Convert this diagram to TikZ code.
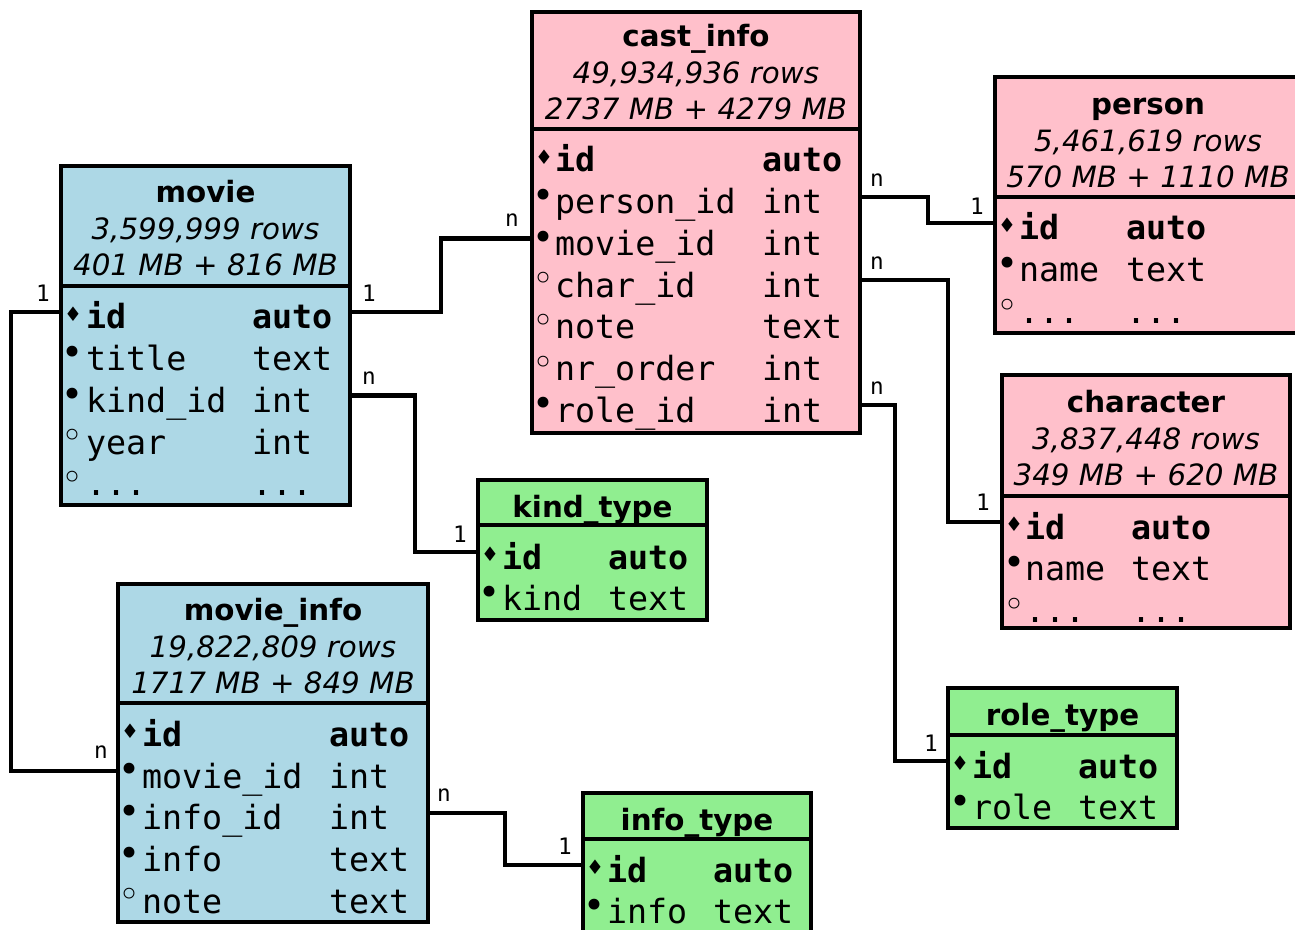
\documentclass[tikz,border=0pt]{standalone}
\usepackage{fontspec}
\setmainfont{DejaVu Sans}
\setmonofont{DejaVu Sans Mono}
\newfontfamily\markfont{DejaVu Sans}
\definecolor{tblue}{HTML}{ADD8E6}
\definecolor{tpink}{HTML}{FFC0CB}
\definecolor{tgreen}{HTML}{90EE90}
\tikzset{
  tbox/.style={draw=black, line width=3.2pt, anchor=north west, inner sep=0pt, outer sep=0pt},
  port/.style={inner sep=0pt, outer sep=0pt, minimum height=0pt},
  mk/.style={inner sep=0pt, outer sep=0pt, font=\markfont, anchor=center},
  fld/.style={inner sep=0pt, outer sep=0pt, anchor=base west, font=\ttfamily\fontsize{25}{30}\selectfont},
  hd/.style={inner sep=0pt, outer sep=0pt, anchor=base, font=\fontsize{22}{27}\selectfont},
  lbl/.style={inner sep=0pt, outer sep=0pt, anchor=center, font=\ttfamily\fontsize{17}{17}\selectfont},
  edge/.style={draw=black, line width=3.2pt}
}
\newcommand\mkd{{\fontsize{15}{15}\selectfont ♦}}
\newcommand\mkb{{\fontsize{28}{28}\selectfont •}}
\newcommand\mkc{{\fontsize{28}{28}\selectfont ◦}}
% #1 name, #2 L, #3 R, #4 baseline, #5 mark, #6 name x, #7 name, #8 type x, #9 type
\newcommand\frow[9]{%
  \node[port, minimum width={(#3-#2)*0.75pt}] (#1) at ({(#2+#3)/2},{#4-15}) {};
  \node[mk] (#1-m) at ({#2+12},{#4-13}) {#5};
  \node[fld] (#1-n) at (#6,{#4+2}) {#7};
  \node[fld] (#1-t) at (#8,{#4+2}) {#9};
}
\begin{document}
\begin{tikzpicture}[x=0.75pt, y=-0.75pt]
\useasboundingbox (0,0) rectangle (1295,930);
\clip (0,0) rectangle (1295,930);

% ---------- table boxes ----------
% movie
\node[tbox, fill=tblue, minimum width=289*0.75pt, minimum height=120*0.75pt] (mv) at (61,166) {};
\node[tbox, fill=tblue, minimum width=289*0.75pt, minimum height=219*0.75pt] (mv-body) at (61,286) {};
\node[hd] (mv-title) at (205.5,203) {\bfseries movie};
\node[hd] (mv-rows) at (205.5,239.5) {\itshape 3,599,999 rows};
\node[hd] (mv-size) at (205.5,276) {\itshape 401 MB + 816 MB};
\frow{mv-id}{61}{350}{327}{\mkd}{86}{\bfseries id}{252}{\bfseries auto}
\frow{mv-title-r}{61}{350}{368.7}{\mkb}{86}{title}{252}{text}
\frow{mv-kindid}{61}{350}{410.4}{\mkb}{86}{kind\_id}{252}{int}
\frow{mv-year}{61}{350}{452.1}{\mkc}{86}{year}{252}{int}
\frow{mv-more}{61}{350}{493.8}{\mkc}{86}{...}{252}{...}

% cast_info
\node[tbox, fill=tpink, minimum width=328*0.75pt, minimum height=117*0.75pt] (ci) at (532,12) {};
\node[tbox, fill=tpink, minimum width=328*0.75pt, minimum height=304*0.75pt] (ci-body) at (532,129) {};
\node[hd] (ci-title) at (696,47) {\bfseries cast\_info};
\node[hd] (ci-rows) at (696,84) {\itshape 49,934,936 rows};
\node[hd] (ci-size) at (696,120) {\itshape 2737 MB + 4279 MB};
\frow{ci-id}{532}{860}{170}{\mkd}{555}{\bfseries id}{762}{\bfseries auto}
\frow{ci-personid}{532}{860}{211.7}{\mkb}{555}{person\_id}{762}{int}
\frow{ci-movieid}{532}{860}{253.4}{\mkb}{555}{movie\_id}{762}{int}
\frow{ci-charid}{532}{860}{295.1}{\mkc}{555}{char\_id}{762}{int}
\frow{ci-note}{532}{860}{336.8}{\mkc}{555}{note}{762}{text}
\frow{ci-nrorder}{532}{860}{378.5}{\mkc}{555}{nr\_order}{762}{int}
\frow{ci-roleid}{532}{860}{420.2}{\mkb}{555}{role\_id}{762}{int}

% person
\node[tbox, fill=tpink, minimum width=306*0.75pt, minimum height=120*0.75pt] (pe) at (995,77) {};
\node[tbox, fill=tpink, minimum width=306*0.75pt, minimum height=136*0.75pt] (pe-body) at (995,197) {};
\node[hd] (pe-title) at (1148,115) {\bfseries person};
\node[hd] (pe-rows) at (1148,151.5) {\itshape 5,461,619 rows};
\node[hd] (pe-size) at (1148,188) {\itshape 570 MB + 1110 MB};
\frow{pe-id}{995}{1301}{238}{\mkd}{1019}{\bfseries id}{1126}{\bfseries auto}
\frow{pe-name}{995}{1301}{279.7}{\mkb}{1019}{name}{1126}{text}
\frow{pe-more}{995}{1301}{321.4}{\mkc}{1019}{...}{1126}{...}

% character
\node[tbox, fill=tpink, minimum width=288*0.75pt, minimum height=121*0.75pt] (ch) at (1002,375) {};
\node[tbox, fill=tpink, minimum width=288*0.75pt, minimum height=132*0.75pt] (ch-body) at (1002,496) {};
\node[hd] (ch-title) at (1146,412) {\bfseries character};
\node[hd] (ch-rows) at (1146,449) {\itshape 3,837,448 rows};
\node[hd] (ch-size) at (1146,485) {\itshape 349 MB + 620 MB};
\frow{ch-id}{1002}{1290}{537}{\mkd}{1025}{\bfseries id}{1131}{\bfseries auto}
\frow{ch-name}{1002}{1290}{578.7}{\mkb}{1025}{name}{1131}{text}
\frow{ch-more}{1002}{1290}{620.4}{\mkc}{1025}{...}{1131}{...}

% kind_type
\node[tbox, fill=tgreen, minimum width=229*0.75pt, minimum height=45*0.75pt] (kt) at (478,480) {};
\node[tbox, fill=tgreen, minimum width=229*0.75pt, minimum height=95*0.75pt] (kt-body) at (478,525) {};
\node[hd] (kt-title) at (592.5,517) {\bfseries kind\_type};
\frow{kt-id}{478}{707}{567}{\mkd}{502}{\bfseries id}{608}{\bfseries auto}
\frow{kt-kind}{478}{707}{608.7}{\mkb}{502}{kind}{608}{text}

% role_type
\node[tbox, fill=tgreen, minimum width=229*0.75pt, minimum height=47*0.75pt] (rt) at (948,688) {};
\node[tbox, fill=tgreen, minimum width=229*0.75pt, minimum height=93*0.75pt] (rt-body) at (948,735) {};
\node[hd] (rt-title) at (1062.5,725) {\bfseries role\_type};
\frow{rt-id}{948}{1177}{776}{\mkd}{972}{\bfseries id}{1078}{\bfseries auto}
\frow{rt-role}{948}{1177}{817.7}{\mkb}{972}{role}{1078}{text}

% info_type
\node[tbox, fill=tgreen, minimum width=228*0.75pt, minimum height=46*0.75pt] (it) at (583,793) {};
\node[tbox, fill=tgreen, minimum width=228*0.75pt, minimum height=95*0.75pt] (it-body) at (583,839) {};
\node[hd] (it-title) at (697,830) {\bfseries info\_type};
\frow{it-id}{583}{811}{880}{\mkd}{607}{\bfseries id}{713}{\bfseries auto}
\frow{it-info}{583}{811}{921.7}{\mkb}{607}{info}{713}{text}

% movie_info
\node[tbox, fill=tblue, minimum width=310*0.75pt, minimum height=119*0.75pt] (mi) at (118,584) {};
\node[tbox, fill=tblue, minimum width=310*0.75pt, minimum height=219*0.75pt] (mi-body) at (118,703) {};
\node[hd] (mi-title) at (273,620) {\bfseries movie\_info};
\node[hd] (mi-rows) at (273,657) {\itshape 19,822,809 rows};
\node[hd] (mi-size) at (273,693) {\itshape 1717 MB + 849 MB};
\frow{mi-id}{118}{428}{744.3}{\mkd}{142}{\bfseries id}{329}{\bfseries auto}
\frow{mi-movieid}{118}{428}{786}{\mkb}{142}{movie\_id}{329}{int}
\frow{mi-infoid}{118}{428}{827.7}{\mkb}{142}{info\_id}{329}{int}
\frow{mi-info}{118}{428}{869.4}{\mkb}{142}{info}{329}{text}
\frow{mi-note}{118}{428}{911.1}{\mkc}{142}{note}{329}{text}

% ---------- connectors ----------
\draw[edge] (mv-id.west) -- ++(-50,0) |- (mi-movieid.west);
\draw[edge] (mv-id.east) -- ++(91,0) |- (ci-movieid.west);
\draw[edge] (mv-kindid.east) -- ++(65,0) |- (kt-id.west);
\draw[edge] (ci-personid.east) -- ++(68,0) |- (pe-id.west);
\draw[edge] (ci-charid.east) -- ++(88,0) |- (ch-id.west);
\draw[edge] (ci-roleid.east) -- ++(35,0) |- (rt-id.west);
\draw[edge] (mi-infoid.east) -- ++(77,0) |- (it-id.west);

% ---------- cardinality labels ----------
\node[lbl] (l1) at (43,293) {1};
\node[lbl] (l2) at (101,752) {n};
\node[lbl] (l3) at (369,293) {1};
\node[lbl] (l4) at (512,220) {n};
\node[lbl] (l5) at (369,378) {n};
\node[lbl] (l6) at (460,534) {1};
\node[lbl] (l7) at (877,180) {n};
\node[lbl] (l8) at (977,206) {1};
\node[lbl] (l9) at (877,263) {n};
\node[lbl] (l10) at (983,502) {1};
\node[lbl] (l11) at (877,388) {n};
\node[lbl] (l12) at (931,743) {1};
\node[lbl] (l13) at (444,795) {n};
\node[lbl] (l14) at (565,846) {1};
\end{tikzpicture}
\end{document}
